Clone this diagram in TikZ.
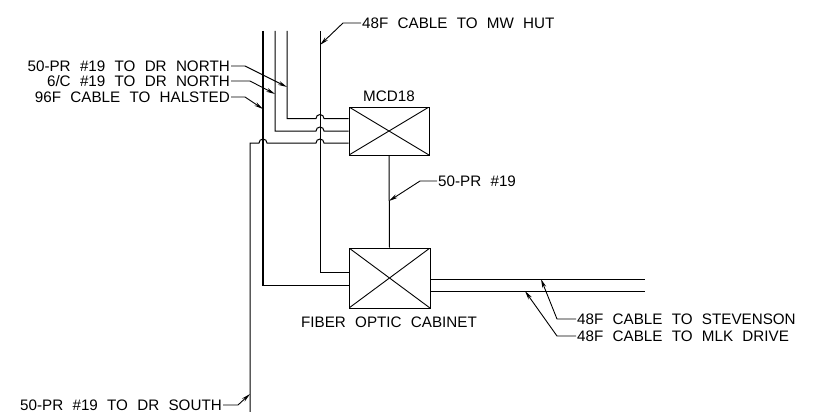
\documentclass[tikz,border=0pt]{standalone}
\usepackage{fontspec}
\setmainfont[WordSpace=2.2]{Liberation Sans}
\usetikzlibrary{arrows.meta}
\tikzset{
  wire/.style={line width=1pt},
  trunk/.style={line width=1.2pt},
  leader/.style={line width=0.9pt,-{Stealth[length=9pt,width=4pt]}},
  cabbox/.style={rectangle,draw,line width=1pt,inner sep=0pt,
    path picture={\draw[line width=0.9pt] (path picture bounding box.north west) -- (path picture bounding box.south east)
      (path picture bounding box.north east) -- (path picture bounding box.south west);}},
  lbl/.style={inner sep=1pt,font=\fontsize{15.2}{16}\selectfont}
}
\begin{document}
\begin{tikzpicture}
        [x=1pt,y=-1pt]
        \useasboundingbox (0,0) rectangle (817,412);

        \node[cabbox,minimum width=80pt,minimum height=48pt] (mcd) at (389,131) {};
        \node[cabbox,minimum width=81pt,minimum height=60pt] (cab) at (389.5,278) {};
        \node[lbl] (mcdname) at (389,96) {MCD18};
        \node[lbl] (cabname) at (389,322) {FIBER OPTIC CABINET};

        % labels
        \node[lbl,anchor=east] (drnorth) at (231,66) {50-PR \#19 TO DR NORTH};
        \node[lbl,anchor=east] (cnorth) at (231,81) {6/C \#19 TO DR NORTH};
        \node[lbl,anchor=east] (halsted) at (231,97) {96F CABLE TO HALSTED};
        \node[lbl,anchor=east] (drsouth) at (223,405) {50-PR \#19 TO DR SOUTH};
        \node[lbl,anchor=west] (mwhut) at (361,23) {48F CABLE TO MW HUT};
        \node[lbl,anchor=west] (pr) at (437,181) {50-PR \#19};
        \node[lbl,anchor=west] (stevenson) at (576,319) {48F CABLE TO STEVENSON};
        \node[lbl,anchor=west] (mlk) at (576,336) {48F CABLE TO MLK DRIVE};

        \coordinate (tipnorth) at (287,87);
        \coordinate (tipc) at (275,94);
        \coordinate (tiphal) at (263,109);
        \coordinate (tipsouth) at (250,394);
        \coordinate (tipmw) at (320,45);
        \coordinate (tippr) at (389,201);
        \coordinate (tipst) at (541,279);
        \coordinate (tipmlk) at (525,291);
        \coordinate (end1) at (645,279);
        \coordinate (end2) at (645,291);

        % vertical runs
        \draw[wire] (263,285) -- (cab.west |- 0,285);
        \draw[trunk] (263,31) -- (263,285.5);
        \draw[wire] (320,31) -- (320,272) -- (cab.west |- 0,272);
        \draw[wire] (mcd.south) -- (cab.north);

        % runs into the MCD
        \foreach \px/\py in {287/118.5,275/131}
        {\draw[wire] (\px,31) -- (\px,\py) -- (316,\py) arc[start angle=180,end angle=0,radius=4pt] -- (mcd.west |- 0,\py);}
        \draw[wire] (250,412) -- (250,143) -- (259,143) arc[start angle=180,end angle=0,radius=4pt]
          -- (316,143) arc[start angle=180,end angle=0,radius=4pt] -- (mcd.west |- 0,143);

        % runs out of the cabinet
        \draw[wire] (cab.east |- end1) -- (end1);
        \draw[wire] (cab.east |- end2) -- (end2);

        % leaders
        \draw[leader] (drnorth.east) -- (245,66) -- (tipnorth);
        \draw[leader] (cnorth.east) -- (250,81) -- (tipc);
        \draw[leader] (halsted.east) -- (245,97) -- (tiphal);
        \draw[leader] (drsouth.east) -- (238,405) -- (tipsouth);
        \draw[leader] (mwhut.west) -- (343,23) -- (tipmw);
        \draw[leader] (pr.west) -- (420,181) -- (tippr);
        \draw[leader] (stevenson.west) -- (557,319) -- (tipst);
        \draw[leader] (mlk.west) -- (557,336) -- (tipmlk);
      \end{tikzpicture}
\end{document}
